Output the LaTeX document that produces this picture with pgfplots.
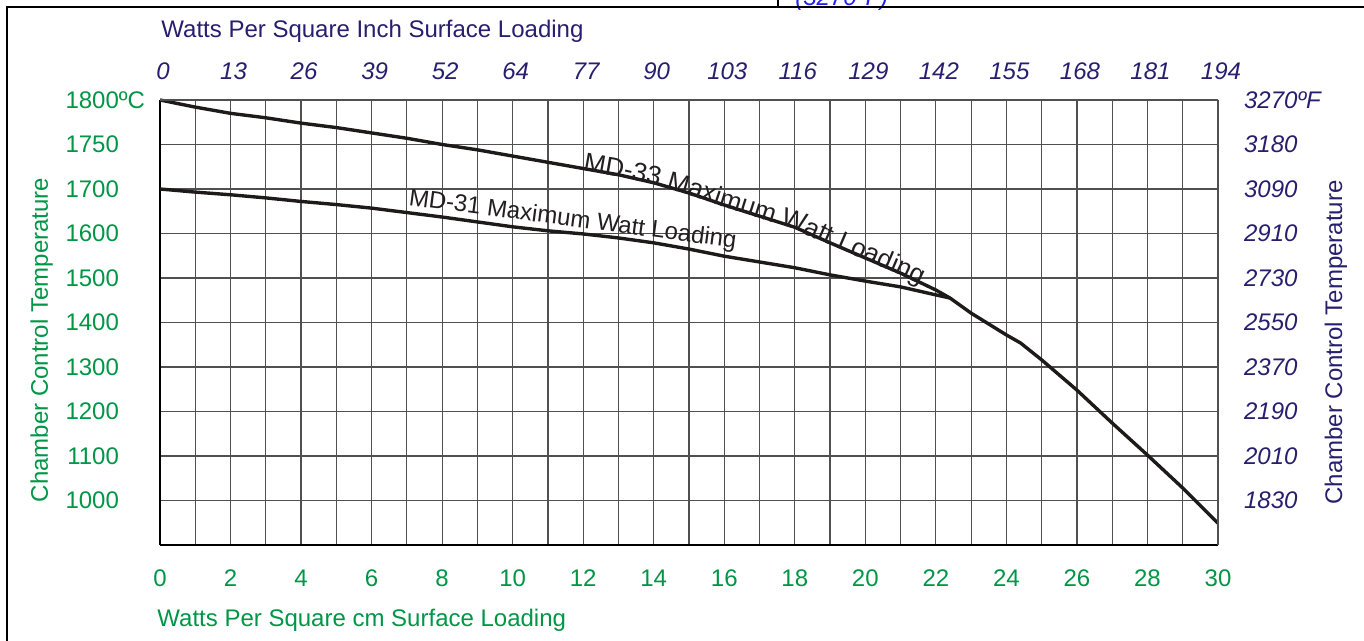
\documentclass[border=0pt]{standalone}
\usepackage{pgfplots}
\usepackage{pgfplotstable}
\pgfplotsset{compat=1.18}
\usepackage{fontspec}
\setmainfont{Liberation Sans}
\usetikzlibrary{decorations.text}
\definecolor{cgreen}{HTML}{009646}
\definecolor{cnavy}{HTML}{281E6E}
\definecolor{cgrid}{HTML}{505050}
\definecolor{cline}{HTML}{1E1A1A}
\definecolor{clabel}{HTML}{231F20}
\definecolor{cblue}{HTML}{2020F0}

% MD-33 maximum watt loading (x in W/cm^2, T in deg C); tail is common to both
\pgfplotstableread{
x T
0 1800
1 1792
2 1785
3 1780
4 1774
5 1769
6 1763
7 1757
8 1750
9 1744
10 1737
11 1730
12 1723
13 1716
14 1707
15 1691
16 1664
17 1639
18 1614
19 1579
20 1545
21 1511
22 1473
22.4 1455
23 1421
24 1372
24.4 1354
25 1316
26 1248
27 1174
28 1102
29 1028
30 949
}\mdthree

% MD-31 maximum watt loading
\pgfplotstableread{
x T
0 1700
1 1693
2 1687
3 1680
4 1672
5 1665
6 1657
7 1647
8 1637
9 1626
10 1615
11 1606
12 1599
13 1590
14 1579
15 1565
16 1549
17 1536
18 1523
19 1507
20 1493
21 1480
22 1462
22.4 1455
}\mdone

\begin{document}
\begin{tikzpicture}
\useasboundingbox (-80pt,-48pt) rectangle (602pt,272.5pt);
\begin{axis}[
  at={(0,0)}, anchor=south west, scale only axis,
  width=529pt, height=222.5pt,
  xmin=0, xmax=30, ymin=900, ymax=1800,
  y coord trafo/.code={\pgfmathparse{#1>1700 ? 8+(#1-1700)/50 : 1+(#1-1000)/100}},
  xtick={0,2,...,30}, minor xtick={1,3,...,29},
  ytick={1000,1100,1200,1300,1400,1500,1600,1700,1750,1800},
  yticklabels={1000,1100,1200,1300,1400,1500,1600,1700,1750,1800\rlap{ºC}},
  grid=both,
  major grid style={cgrid, line width=0.6pt},
  minor grid style={cgrid, line width=0.6pt},
  axis x line=bottom, axis y line=left,
  axis line style={-, black, line width=0.9pt},
  x axis line style={-}, y axis line style={-},
  major tick length=0pt, minor tick length=0pt,
  /pgf/number format/assume math mode=true,
  tick label style={font=\fontsize{12}{14}\selectfont, text=cgreen},
  xticklabel style={anchor=north, yshift=-9pt},
  yticklabel style={anchor=east, xshift=-17pt},
  clip=false,
]
\addplot[cline, line width=1.7pt, line join=round, no marks] table[x=x, y=T] {\mdthree};
\addplot[cline, line width=1.7pt, line join=round, no marks] table[x=x, y=T] {\mdone};
\addplot[draw=none, no marks, restrict x to domain=12:26,
  postaction={decorate},
  decoration={text along path, raise=-1pt, text color=clabel,
    text={|\fontsize{13}{15}\selectfont|MD-33 Maximum Watt Loading}}]
  table[x=x, y=T] {\mdthree};
\node[rotate=-7.5, anchor=base west, inner sep=0pt, text=clabel,
  font=\fontsize{12}{14}\selectfont] at (axis cs:7.03,1664) {MD-31 Maximum Watt Loading};
\end{axis}
\begin{axis}[
  at={(0,0)}, anchor=south west, scale only axis,
  width=529pt, height=222.5pt,
  xmin=0, xmax=30, ymin=0, ymax=10,
  axis x line=top, axis y line=right,
  axis line style={-, cgrid, line width=0.6pt},
  x axis line style={-}, y axis line style={-},
  xticklabel pos=upper, yticklabel pos=right,
  xtick={0,2,...,30},
  xticklabels={0,13,26,39,52,64,77,90,103,116,129,142,155,168,181,194},
  ytick={1,2,3,4,5,6,7,8,9,10},
  yticklabels={1830,2010,2190,2370,2550,2730,2910,3090,3180,3270ºF},
  major tick length=0pt,
  tick label style={text=cnavy},
  xticklabel style={font=\fontsize{12}{14}\selectfont\itshape, anchor=south, yshift=6.5pt, xshift=1.5pt},
  yticklabel style={font=\fontsize{12}{14}\selectfont\itshape, anchor=west, xshift=9.5pt},
]
\end{axis}
% titles
\node[anchor=base west, inner sep=0pt, text=cnavy, font=\fontsize{12}{14}\selectfont]
  at (0.5pt,253.5pt) {Watts Per Square Inch Surface Loading};
\node[anchor=base west, inner sep=0pt, text=cgreen, font=\fontsize{12}{14}\selectfont]
  at (-1.5pt,-41pt) {Watts Per Square cm Surface Loading};
\node[rotate=90, anchor=base, inner sep=0pt, text=cgreen, font=\fontsize{12}{14}\selectfont]
  at (-56pt,102.5pt) {Chamber Control Temperature};
\node[rotate=90, anchor=base, inner sep=0pt, text=cnavy, font=\fontsize{12}{14}\selectfont]
  at (591pt,101.25pt) {Chamber Control Temperature};
% frame
\node[anchor=base west, inner sep=0pt, text=cblue, font=\fontsize{12}{14}\selectfont\itshape]
  at (317.5pt,269.5pt) {(3270ºF)};
\draw[black, line width=1pt] (-76.5pt,-48pt) -- (-76.5pt,269pt) -- (602pt,269pt);
\draw[black, line width=1.3pt] (309pt,269pt) -- (309pt,272.5pt);
\end{tikzpicture}
\end{document}
